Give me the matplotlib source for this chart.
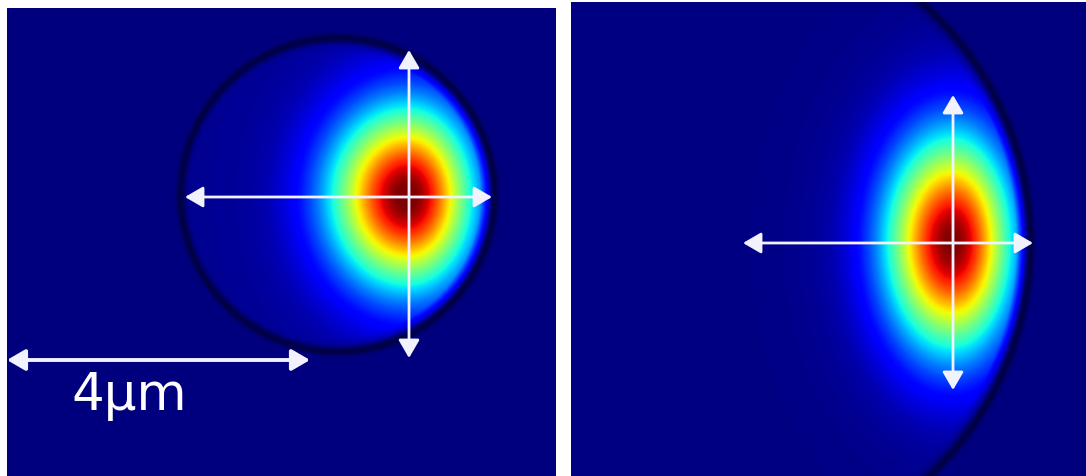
import numpy as np
import matplotlib
matplotlib.use("Agg")
from matplotlib import pyplot as plt
from matplotlib.colors import LinearSegmentedColormap

# panel extents in pixel units: x0, x1, y_bottom, y_top
left_extent = [7, 556, 476, 8]
right_extent = [571, 1086, 476, 2]

# sphere outline: centre x, centre y, radius
left_circle = [338, 195, 157]
right_circle = [711, 243, 320]

# mode peak position and widths (sigma left, sigma right, sigma vertical)
left_peak = [408, 197]
left_sigma = [52, 44, 61]
right_peak = [953, 243]
right_sigma = [45, 40, 73]

# broad haze around the mode: amplitude, horizontal width, vertical width
left_tail = [0.02, 90, 110]
right_tail = [0.04, 90, 130]

# faint level inside the sphere
left_inside = 0.018
right_inside = 0.004

# double headed arrows: (start, end)
left_arrows = [((185, 197), (492, 197)), ((409, 50), (409, 358))]
right_arrows = [((743, 243), (1033, 243)), ((953, 95), (953, 390))]
scale_arrow = ((7, 360), (310, 360))
scale_label = "4\u03bcm"


def mode_field(extent, circle, peak, sigma, tail, inside):
    xs = np.arange(extent[0], extent[1] + 1, 0.5)
    ys = np.arange(extent[3], extent[2] + 1, 0.5)
    X, Y = np.meshgrid(xs, ys)
    dx = X - peak[0]
    dy = Y - peak[1]
    sx = np.where(dx < 0, sigma[0], sigma[1])
    core = np.exp(-dx**2 / (2 * sx**2) - dy**2 / (2 * sigma[2]**2))
    haze = np.exp(-dx**2 / (2 * tail[1]**2) - dy**2 / (2 * tail[2]**2))
    field = (1 - tail[0]) * core + tail[0] * haze
    r = np.hypot(X - circle[0], Y - circle[1])
    taper = np.clip((circle[2] - r) / 14.0, 0, 1)
    field = field * taper + inside * np.clip((circle[2] - r) / 6.0, 0, 1)
    rim = 0.1 * np.exp(-(r - circle[2])**2 / (2 * 3.0**2))
    return field - rim


# jet with a darker navy below zero for the sphere rim
jet = plt.get_cmap("jet")
vmin, vmax = -0.15, 1.0
z0 = (0 - vmin) / (vmax - vmin)
cols = [(0.0, (0, 0, 0.15))]
for t in np.linspace(0, 1, 80):
    cols.append((z0 + t * (1 - z0), jet(t)))
cmap = LinearSegmentedColormap.from_list("jet_dark", cols)

fig = plt.figure(figsize=(10.86, 4.76), dpi=100)
fig.patch.set_facecolor("white")

W, H = 1086, 476
axes = []
for ext in [left_extent, right_extent]:
    ax = fig.add_axes([ext[0] / W, 1 - ext[2] / H, (ext[1] - ext[0]) / W,
                       (ext[2] - ext[3]) / H])
    axes.append(ax)

panels = [
    (axes[0], left_extent, left_circle, left_peak, left_sigma, left_tail, left_inside, left_arrows),
    (axes[1], right_extent, right_circle, right_peak, right_sigma, right_tail, right_inside, right_arrows),
]

arrow_style = "<|-|>,head_length=0.55,head_width=0.32"
arrow_color = "#f2f2ff"

for ax, ext, circ, peak, sig, tail, inside, arrows in panels:
    img = mode_field(ext, circ, peak, sig, tail, inside)
    ax.imshow(img, cmap=cmap, vmin=vmin, vmax=vmax, extent=ext,
              interpolation="bilinear", aspect="auto")
    for a, b in arrows:
        ax.annotate("", xy=b, xytext=a,
                    arrowprops=dict(arrowstyle=arrow_style, color=arrow_color,
                                    lw=2, mutation_scale=20, shrinkA=0, shrinkB=0))
    ax.set_xlim(ext[0], ext[1])
    ax.set_ylim(ext[2], ext[3])
    ax.axis("off")

ax = axes[0]
ax.annotate("", xy=scale_arrow[1], xytext=scale_arrow[0],
            arrowprops=dict(arrowstyle=arrow_style, color=arrow_color,
                            lw=2.8, mutation_scale=20, shrinkA=0, shrinkB=0))
ax.text(71, 410, scale_label, color="white", fontsize=37, family="DejaVu Sans",
        ha="left", va="baseline")

fig.savefig("out.png", dpi=100)
